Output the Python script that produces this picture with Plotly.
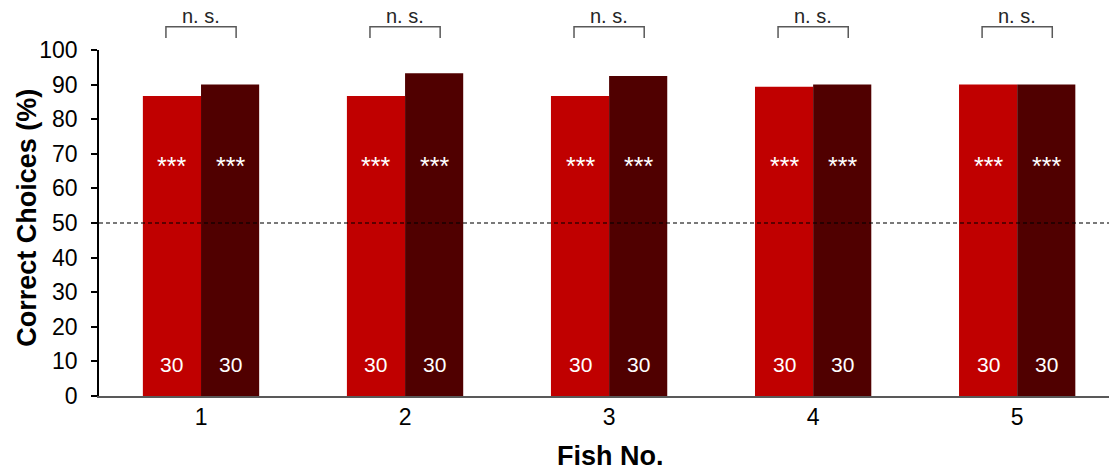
import plotly.graph_objects as go

fish = [1, 2, 3, 4, 5]
tick_labels = ["1", "2", "3", "4", "5"]
series_a = [86.7, 86.7, 86.7, 89.4, 90.0]
series_b = [90.0, 93.3, 92.5, 90.0, 90.0]
n_a = [30, 30, 30, 30, 30]
n_b = [30, 30, 30, 30, 30]
sig_a = ["***"] * 5
sig_b = ["***"] * 5
pair_sig = ["n. s."] * 5
chance = 50

FONT = "Liberation Sans, Arial, sans-serif"
RED = "#C00000"
DARK = "#500000"

fig = go.Figure()
fig.add_trace(go.Bar(x=fish, y=series_a, marker=dict(color=RED, line=dict(width=0)), showlegend=False))
fig.add_trace(go.Bar(x=fish, y=series_b, marker=dict(color=DARK, line=dict(width=0)), showlegend=False))

off = 0.1425
ann = []
for i, f in enumerate(fish):
    for dx, s, n in ((-off, sig_a[i], n_a[i]), (off, sig_b[i], n_b[i])):
        ann.append(dict(x=f + dx, y=66.5, text=s, showarrow=False, xref="x", yref="y",
                        yanchor="middle", font=dict(color="white", size=25, family=FONT)))
        ann.append(dict(x=f + dx, y=9.25, text=str(n), showarrow=False, xref="x", yref="y",
                        yanchor="middle", font=dict(color="white", size=21, family=FONT)))
    ann.append(dict(x=f, y=1.098, text=pair_sig[i], showarrow=False, xref="x", yref="paper",
                    yanchor="middle", font=dict(color="#262626", size=20, family=FONT)))

shapes = []
for f in fish:
    shapes.append(dict(type="path", xref="x", yref="paper",
                       path=f"M {f-0.172},1.035 L {f-0.172},1.067 L {f+0.172},1.067 L {f+0.172},1.035",
                       line=dict(color="#595959", width=1.5)))
shapes.append(dict(type="line", xref="paper", yref="y", x0=0, x1=1, y0=chance, y1=chance,
                   layer="above", line=dict(color="rgba(0,0,0,0.7)", width=1.5, dash="4px,3px")))

ann.append(dict(x=-0.0713, y=0.515, xref="paper", yref="paper", text="<b>Correct Choices (%)</b>",
                textangle=-90, showarrow=False, xanchor="center", yanchor="middle",
                font=dict(size=27, family=FONT, color="black")))
ann.append(dict(x=0.506, y=-0.173, xref="paper", yref="paper", text="<b>Fish No.</b>",
                showarrow=False, xanchor="center", yanchor="middle",
                font=dict(size=27, family=FONT, color="black")))

fig.update_layout(
    width=1109, height=470,
    margin=dict(l=99, r=0, t=50, b=74),
    plot_bgcolor="white", paper_bgcolor="white",
    barmode="group", bargap=0.43, bargroupgap=0,
    font=dict(family=FONT, color="black"),
    annotations=ann, shapes=shapes,
    xaxis=dict(range=[0.5, 5.45], tickvals=fish, ticktext=tick_labels, showgrid=False,
               showline=True, linecolor="#595959", linewidth=1.5, ticks="",
               tickfont=dict(size=23, family=FONT), automargin=False),
    yaxis=dict(range=[0, 100], tickvals=list(range(0, 101, 10)), showgrid=False,
               showline=True, linecolor="black", linewidth=1.5, ticks="outside", ticklen=6,
               tickwidth=1.5, tickcolor="black", zeroline=False, ticklabelstandoff=9,
               tickfont=dict(size=23, family=FONT), automargin=False),
)
fig.write_html("out.html", config={"displayModeBar": False},
               post_script="document.body.style.margin='0';document.body.style.overflow='hidden';")
